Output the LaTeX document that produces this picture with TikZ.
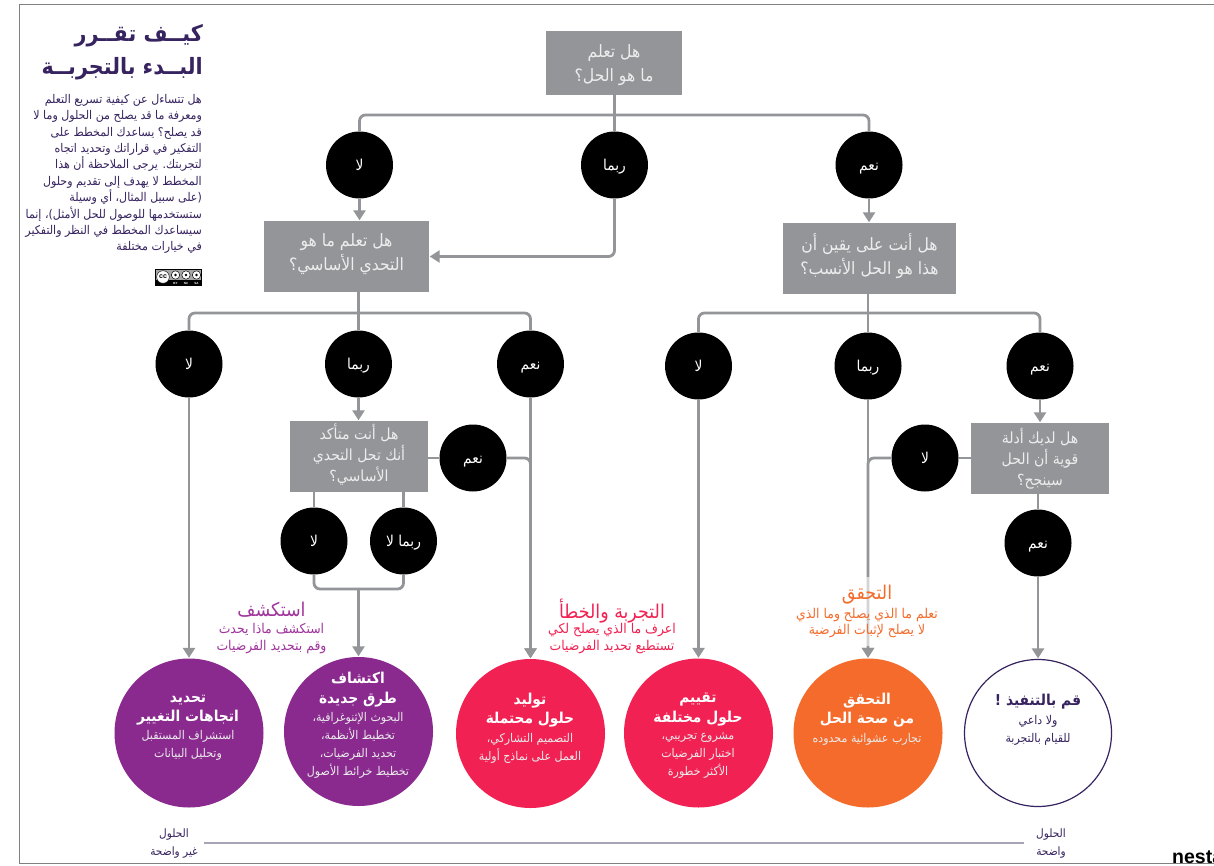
\documentclass[tikz,border=0pt]{standalone}
\usepackage{fontspec}
\usetikzlibrary{arrows.meta}
\TeXXeTstate=1
\newfontfamily\arf[Script=Arabic,FakeStretch=0.92]{DejaVu Sans}
\newfontfamily\latf{Liberation Sans}
\newcommand{\rl}[1]{\beginR #1\endR}
\AtBeginDocument{\lineskiplimit=-100pt}
\definecolor{linegray}{HTML}{939598}
\definecolor{duskpurple}{HTML}{36235F}
\definecolor{nestapurple}{HTML}{8A2A8F}
\definecolor{headpurple}{HTML}{A0359C}
\definecolor{nestared}{HTML}{F12253}
\definecolor{nestaorange}{HTML}{F46B2B}
\definecolor{scalegray}{HTML}{A9A3B8}
\tikzset{
  qbox/.style={fill=linegray,text=white!93!black,inner sep=0pt,align=center,text depth=4pt,font=\arf\fontsize{17}{24}\selectfont},
  qbox3/.style={qbox,font=\arf\fontsize{15.3}{21}\selectfont},
  ans/.style={circle,fill=black,text=white,minimum size=67pt,inner sep=0pt,text height=11.5pt,text depth=0pt,font=\arf\fontsize{15}{16}\selectfont},
  big/.style={circle,minimum size=149pt,inner sep=0pt},
  conn/.style={draw=linegray,line width=2.8pt,rounded corners=6pt},
  arr/.style={conn,-{Triangle[length=10pt,width=12pt]},shorten >=0.5pt},
  bigt/.style={align=center,inner sep=0pt,text=white,font=\arf\bfseries\fontsize{15}{19.5}\selectfont},
  bigs/.style={align=center,inner sep=0pt,text=white!92!black,font=\arf\fontsize{12}{18}\selectfont},
  heada/.style={align=center,inner sep=0pt,font=\arf\fontsize{19}{20}\selectfont},
  suba/.style={align=center,inner sep=0pt,font=\arf\fontsize{13.5}{16.5}\selectfont},
  scalet/.style={align=center,inner sep=0pt,text=duskpurple,font=\arf\fontsize{11.5}{18}\selectfont},
  frameline/.style={draw=black!50,line width=1pt},
}
\begin{document}
\begin{tikzpicture}[x=1pt,y=-1pt]
\useasboundingbox (0,0) rectangle (1214,866);
\fill[white] (0,0) rectangle (1214,866);
% frame
\draw[frameline] (1214,4.5) -- (19,4.5) -- (19,863) -- (1214,863);
% boxes
\node[qbox,text depth=0pt,minimum width=136pt,minimum height=64pt] (b1) at (614,63) {\rl{هل تعلم}\\\rl{ما هو الحل؟}};
\node[qbox,text depth=8pt,minimum width=165pt,minimum height=71pt] (b2) at (346.5,256.5) {\rl{هل تعلم ما هو}\\\rl{التحدي الأساسي؟}};
\node[qbox,text depth=9pt,minimum width=173pt,minimum height=71pt] (b3) at (869.5,258.5) {\rl{هل أنت على يقين أن}\\\rl{هذا هو الحل الأنسب؟}};
\node[qbox3,text depth=8pt,minimum width=138pt,minimum height=71pt] (b4) at (359,456.5) {\rl{هل أنت متأكد}\\\rl{أنك تحل التحدي}\\\rl{الأساسي؟}};
\node[qbox3,minimum width=138pt,minimum height=71pt] (b5) at (1040,458.5) {\rl{هل لديك أدلة}\\\rl{قوية أن الحل}\\\rl{سينجح؟}};
% answers
\node[ans] (c1) at (359.5,165) {\rl{لا}};
\node[ans] (c2) at (614.5,165) {\rl{ربما}};
\node[ans] (c3) at (869,165) {\rl{نعم}};
\node[ans] (d1) at (189,364) {\rl{لا}};
\node[ans] (d2) at (358.5,364) {\rl{ربما}};
\node[ans] (d3) at (530.5,364) {\rl{نعم}};
\node[ans] (e1) at (698.5,366) {\rl{لا}};
\node[ans] (e2) at (868,366) {\rl{ربما}};
\node[ans] (e3) at (1040,366) {\rl{نعم}};
\node[ans] (f1) at (473,458) {\rl{نعم}};
\node[ans] (f2) at (314,541) {\rl{لا}};
\node[ans] (f3) at (403.5,541) {\rl{ربما لا}};
\node[ans] (g1) at (925,458) {\rl{لا}};
\node[ans] (g2) at (1038,543) {\rl{نعم}};
% outcomes
\node[big,fill=nestapurple] (o1) at (189,733) {};
\node[big,fill=nestapurple] (o2) at (358.5,731.5) {};
\node[big,fill=nestared] (o3) at (530.5,733.5) {};
\node[big,fill=nestared] (o4) at (698.5,733) {};
\node[big,fill=nestaorange] (o5) at (868,733) {};
\node[big,draw=duskpurple,line width=1.2pt,minimum size=147pt] (o6) at (1038,733) {};
% joints
\coordinate (j1) at (614.5,115);
\coordinate (j2) at (358.5,313);
\coordinate (j3) at (868,313);
\coordinate (j4) at (358.5,589);
% connectors
\draw[conn] (b1.south -| c2.north) -- (c2.north);
\draw[conn] (c1.north) |- (j1) -| (c3.north);
\draw[arr] (c1.south) -- (c1.south |- b2.north);
\draw[arr] (c2.south) |- (b2.east);
\draw[arr] (c3.south) -- (c3.south |- b3.north);
\draw[conn] (b2.south -| d2.north) -- (d2.north);
\draw[conn] (d1.north) |- (j2) -| (d3.north);
\draw[conn] (b3.south -| e2.north) -- (e2.north);
\draw[conn] (e1.north) |- (j3) -| (e3.north);
\draw[arr] (d1.south) -- (o1.north);
\draw[arr] (d2.south) -- (d2.south |- b4.north);
\draw[arr] (d3.south) -- (o3.north);
\draw[arr] (e1.south) -- (o4.north);
\draw[arr] (e2.south) -- (o5.north);
\draw[arr] (e3.south) -- (e3.south |- b5.north);
\draw[conn] (b4.east |- f1.west) -- (f1.west);
\draw[arr] (f1.east) -| (o3.north);
\draw[conn] (b4.south -| f2.north) -- (f2.north);
\draw[conn] (b4.south -| f3.north) -- (f3.north);
\draw[conn] (f2.south) |- (j4) -| (f3.south);
\draw[arr] (j4) -- (o2.north);
\draw[conn] (b5.west |- g1.east) -- (g1.east);
\draw[arr] (g1.west) -| (o5.north);
\draw[conn] (b5.south -| g2.north) -- (g2.north);
\draw[arr] (g2.south) -- (o6.north);
% scale
\draw[scalegray,line width=1.2pt] (204,843) coordinate (s1) -- (1024,843) coordinate (s2);
\node[scalet] (sl) at (174,844) {\rl{الحلول}\\\rl{غير واضحة}};
\node[scalet] (sr) at (1051,844) {\rl{الحلول}\\\rl{واضحة}};
% outcome texts
\node[bigt] (t1) at (188,710) {\rl{تحديد}\\\rl{اتجاهات التغيير}};
\node[bigs] (u1) at (188,745) {\rl{استشراف المستقبل}\\\rl{وتحليل البيانات}};
\node[bigt] (t2) at (358,689.5) {\rl{اكتشاف}\\\rl{طرق جديدة}};
\node[bigs] (u2) at (358,745) {\rl{البحوث الإثنوغرافية،}\\\rl{تخطيط الأنظمة،}\\\rl{تحديد الفرضيات،}\\\rl{تخطيط خرائط الأصول}};
\node[bigt] (t3) at (530,710) {\rl{توليد}\\\rl{حلول محتملة}};
\node[bigs] (u3) at (530,748) {\rl{التصميم التشاركي،}\\\rl{العمل على نماذج أولية}};
\node[bigt] (t4) at (698,709.5) {\rl{تقييم}\\\rl{حلول مختلفة}};
\node[bigs] (u4) at (698,755) {\rl{مشروع تجريبي،}\\\rl{اختبار الفرضيات}\\\rl{الأكثر خطورة}};
\node[bigt] (t5) at (867,710) {\rl{التحقق}\\\rl{من صحة الحل}};
\node[bigs] (u5) at (867,739) {\rl{تجارب عشوائية محدوده}};
\node[bigt,text=duskpurple] (t6) at (1038,702) {\rl{قم بالتنفيذ !}};
\node[bigs,text=duskpurple] (u6) at (1038,730) {\rl{ولا داعي}\\\rl{للقيام بالتجربة}};
% approach labels
\node[heada,text=headpurple] (h1) at (271.5,610) {\rl{استكشف}};
\node[suba,text=headpurple] (k1) at (271.5,638.5) {\rl{استكشف ماذا يحدث}\\\rl{وقم بتحديد الفرضيات}};
\node[heada,text=nestared] (h2) at (612,611) {\rl{التجربة والخطأ}};
\node[suba,text=nestared] (k2) at (612,638.5) {\rl{اعرف ما الذي يصلح لكي}\\\rl{تستطيع تحديد الفرضيات}};
\fill[white,opacity=0.6] (861,577) rectangle (875,646);
\node[heada,text=nestaorange] (h3) at (867,595) {\rl{التحقق}};
\node[suba,text=nestaorange] (k3) at (867,623) {\rl{تعلم ما الذي يصلح وما الذي}\\\rl{لا يصلح لإثبات الفرضية}};
% title
\node[anchor=north east,align=right,inner sep=0pt,text=duskpurple,font=\arf\bfseries\fontsize{22.5}{33}\selectfont] (title) at (203,24) {\rl{كيــف تقــرر}\\\rl{البــدء بالتجربــة}};
\node[anchor=north east,align=right,inner sep=0pt,text=duskpurple,font=\arf\fontsize{12}{16.4}\selectfont] (intro) at (202,94) {\rl{هل تتساءل عن كيفية تسريع التعلم}\\\rl{ومعرفة ما قد يصلح من الحلول وما لا}\\\rl{قد يصلح؟ يساعدك المخطط على}\\\rl{التفكير في قراراتك وتحديد اتجاه}\\\rl{لتجربتك. يرجى الملاحظة أن هذا}\\\rl{المخطط لا يهدف إلى تقديم وحلول}\\\rl{(على سبيل المثال، أي وسيلة}\\\rl{ستستخدمها للوصول للحل الأمثل)، إنما}\\\rl{سيساعدك المخطط في النظر والتفكير}\\\rl{في خيارات مختلفة}};
% licence badge
\fill[black] (154.5,269) rectangle (202,286);
\fill[black!35] (155.5,270) rectangle (201,280.5);
\fill[white,draw=black] (163,277) circle (6.3);
\node[inner sep=0pt,font=\latf\bfseries\fontsize{7}{7}\selectfont] (cc) at (163,276.7) {cc};
\foreach \cx/\nm/\tt in {175.5/by/BY,186/nc/NC,196.5/sa/SA}{
  \fill[white,draw=black,line width=.5pt] (\cx,275) circle (4.2);
  \fill[black] (\cx,275) circle (1.3);
  \node[inner sep=0pt,text=white,font=\latf\bfseries\fontsize{3}{3}\selectfont] (\nm) at (\cx,283.3) {\tt};
}
% logo
\node[anchor=base west,inner sep=0pt,text=black,font=\latf\bfseries\fontsize{19.5}{20}\selectfont] (nesta) at (1172,863) {nesta};
\end{tikzpicture}
\end{document}
